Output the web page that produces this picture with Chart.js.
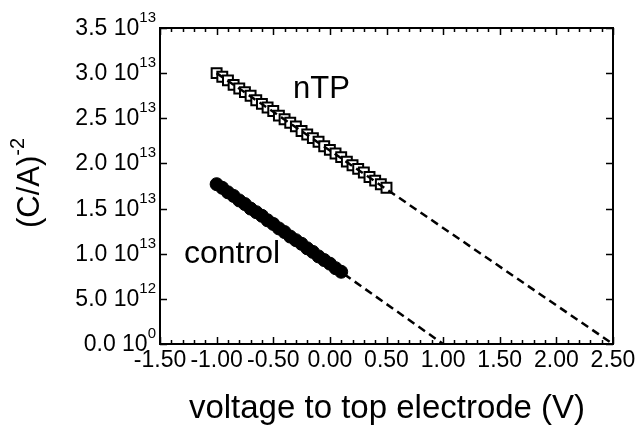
<!DOCTYPE html>
<html>
<head>
<meta charset="utf-8">
<script src="https://cdn.jsdelivr.net/npm/chart.js@4"></script>
<style>
  html, body { margin: 0; padding: 0; background: #fff; }
  #wrap { width: 636px; height: 429px; }
</style>
</head>
<body>
<div id="wrap"><canvas id="c" width="636" height="429"></canvas></div>
<script>
// measured points (voltage in V, (C/A)^-2 in units of 1e13)
const ntpV = [-1.00, -0.95, -0.90, -0.85, -0.80, -0.75, -0.70, -0.65, -0.60, -0.55, -0.50,
  -0.45, -0.40, -0.35, -0.30, -0.25, -0.20, -0.15, -0.10, -0.05, 0.00,
  0.05, 0.10, 0.15, 0.20, 0.25, 0.30, 0.35, 0.40, 0.45, 0.50];
const ntpY = [3.00, 2.96, 2.92, 2.87, 2.83, 2.79, 2.75, 2.70, 2.66, 2.62, 2.58,
  2.53, 2.49, 2.45, 2.41, 2.36, 2.32, 2.28, 2.24, 2.19, 2.15,
  2.11, 2.07, 2.02, 1.98, 1.94, 1.90, 1.85, 1.81, 1.77, 1.73];
const ctrlV = [-1.00, -0.95, -0.90, -0.85, -0.80, -0.75, -0.70, -0.65, -0.60, -0.55, -0.50,
  -0.45, -0.40, -0.35, -0.30, -0.25, -0.20, -0.15, -0.10, -0.05, 0.00, 0.05, 0.10];
const ctrlY = [1.77, 1.73, 1.68, 1.64, 1.59, 1.55, 1.50, 1.46, 1.42, 1.37, 1.33,
  1.28, 1.24, 1.19, 1.15, 1.11, 1.06, 1.02, 0.97, 0.93, 0.89, 0.84, 0.80];
// linear fits extrapolated to zero
const ntpFitV = [-1.00, 2.50];
const ntpFitY = [3.00, 0.00];
const ctrlFitV = [-1.00, 1.00];
const ctrlFitY = [1.77, 0.00];

const xTicks = [-1.5, -1.0, -0.5, 0.0, 0.5, 1.0, 1.5, 2.0, 2.5];
const yTicks = [0, 0.5, 1.0, 1.5, 2.0, 2.5, 3.0, 3.5];
const yTickMain = ["0.0 10", "5.0 10", "1.0 10", "1.5 10", "2.0 10", "2.5 10", "3.0 10", "3.5 10"];
const yTickExp = ["0", "12", "13", "13", "13", "13", "13", "13"];

const FONT = "'Liberation Sans', Arial, sans-serif";
const pts = (xs, ys) => xs.map((x, i) => ({ x: x, y: ys[i] }));

const frame = {
  id: "frame",
  afterDraw(chart) {
    const ctx = chart.ctx;
    const a = chart.chartArea;
    const xs = chart.scales.x, ys = chart.scales.y;
    ctx.save();
    ctx.strokeStyle = "#000";
    ctx.fillStyle = "#000";
    ctx.lineWidth = 2;
    ctx.strokeRect(a.left, a.top, a.right - a.left, a.bottom - a.top);

    // x ticks, inward on bottom and top, minor every 0.1
    ctx.lineWidth = 1.5;
    ctx.beginPath();
    for (let i = -15; i <= 25; i++) {
      const px = Math.round(xs.getPixelForValue(i / 10)) + 0.5;
      const len = i % 5 === 0 ? 7 : 4;
      ctx.moveTo(px, a.bottom); ctx.lineTo(px, a.bottom - len);
      ctx.moveTo(px, a.top); ctx.lineTo(px, a.top + len);
    }
    // y ticks, inward on left and right
    yTicks.forEach(v => {
      const py = Math.round(ys.getPixelForValue(v)) + 0.5;
      ctx.moveTo(a.left, py); ctx.lineTo(a.left + 7, py);
      ctx.moveTo(a.right, py); ctx.lineTo(a.right - 7, py);
    });
    ctx.stroke();

    // x tick labels
    ctx.font = "23px " + FONT;
    ctx.textAlign = "center";
    ctx.textBaseline = "alphabetic";
    xTicks.forEach(v => {
      ctx.fillText(v.toFixed(2), xs.getPixelForValue(v), 367);
    });

    // y tick labels with superscript exponent
    yTicks.forEach((v, i) => {
      const py = ys.getPixelForValue(v);
      ctx.textAlign = "right";
      ctx.font = "15px " + FONT;
      const ew = ctx.measureText(yTickExp[i]).width;
      ctx.fillText(yTickExp[i], 156, py - 6);
      ctx.font = "23px " + FONT;
      ctx.fillText(yTickMain[i], 156 - ew, py + 7);
    });

    // x axis title
    ctx.font = "33px " + FONT;
    ctx.textAlign = "center";
    ctx.fillText("voltage to top electrode (V)", 387, 418);

    // y axis title, rotated, with superscript
    ctx.translate(39, 183);
    ctx.rotate(-Math.PI / 2);
    ctx.font = "31px " + FONT;
    const mw = ctx.measureText("(C/A)").width;
    ctx.font = "20px " + FONT;
    const sw = ctx.measureText("-2").width;
    const start = -(mw + sw) / 2;
    ctx.textAlign = "left";
    ctx.font = "31px " + FONT;
    ctx.fillText("(C/A)", start, 0);
    ctx.font = "20px " + FONT;
    ctx.fillText("-2", start + mw, -15);
    ctx.setTransform(1, 0, 0, 1, 0, 0);

    // series labels
    ctx.textAlign = "left";
    ctx.font = "31px " + FONT;
    ctx.fillText("nTP", 293, 98);
    ctx.font = "32px " + FONT;
    ctx.fillText("control", 184, 263);
    ctx.restore();
  }
};

new Chart(document.getElementById("c"), {
  type: "scatter",
  data: {
    datasets: [
      {
        label: "nTP",
        data: pts(ntpV, ntpY),
        pointStyle: "rect",
        pointRadius: 7,
        pointBackgroundColor: "#fff",
        pointBorderColor: "#000",
        pointBorderWidth: 2,
        order: 2
      },
      {
        label: "control",
        data: pts(ctrlV, ctrlY),
        pointStyle: "circle",
        pointRadius: 6.5,
        pointBackgroundColor: "#000",
        pointBorderColor: "#000",
        pointBorderWidth: 1,
        order: 2
      },
      {
        label: "nTP fit",
        data: pts(ntpFitV, ntpFitY),
        showLine: true,
        borderColor: "#000",
        borderWidth: 2.5,
        borderDash: [8, 5],
        pointRadius: 0,
        order: 1
      },
      {
        label: "control fit",
        data: pts(ctrlFitV, ctrlFitY),
        showLine: true,
        borderColor: "#000",
        borderWidth: 2.5,
        borderDash: [8, 5],
        pointRadius: 0,
        order: 1
      }
    ]
  },
  options: {
    responsive: false,
    animation: false,
    layout: { padding: { left: 160, right: 23, top: 28, bottom: 85 } },
    plugins: { legend: { display: false }, tooltip: { enabled: false } },
    scales: {
      x: { type: "linear", min: -1.5, max: 2.5, display: false },
      y: { type: "linear", min: 0, max: 3.5, display: false }
    }
  },
  plugins: [frame]
});
</script>
</body>
</html>
